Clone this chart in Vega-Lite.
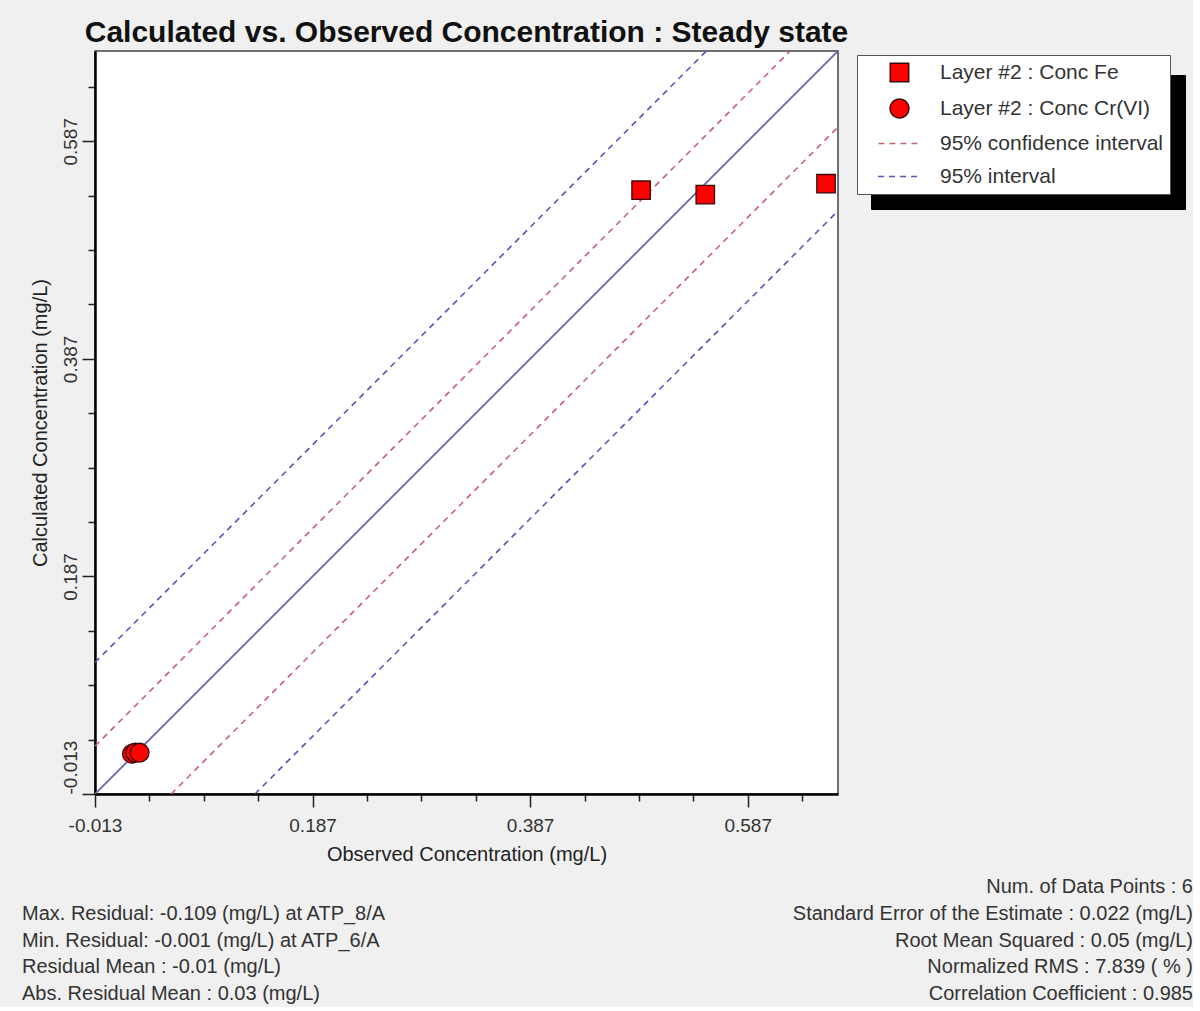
{
  "$schema": "https://vega.github.io/schema/vega-lite/v6.json",
  "background": "#f0f0f0",
  "padding": {"left": 22, "top": 17, "right": 0, "bottom": 0},
  "spacing": 9,
  "config": {
    "font": "Liberation Sans",
    "view": {"stroke": null}
  },
  "datasets": {
    "points": [
      {"series": "Layer #2 : Conc Fe", "x": 0.489, "y": 0.542},
      {"series": "Layer #2 : Conc Fe", "x": 0.548, "y": 0.538},
      {"series": "Layer #2 : Conc Fe", "x": 0.659, "y": 0.548},
      {"series": "Layer #2 : Conc Cr(VI)", "x": 0.021, "y": 0.024},
      {"series": "Layer #2 : Conc Cr(VI)", "x": 0.024, "y": 0.025},
      {"series": "Layer #2 : Conc Cr(VI)", "x": 0.028, "y": 0.025}
    ],
    "bands": [
      {"series": "95% confidence interval", "band": "ci_upper", "x": -0.013, "y": 0.031},
      {"series": "95% confidence interval", "band": "ci_upper", "x": 0.626, "y": 0.67},
      {"series": "95% confidence interval", "band": "ci_lower", "x": 0.057, "y": -0.013},
      {"series": "95% confidence interval", "band": "ci_lower", "x": 0.67, "y": 0.6},
      {"series": "95% interval", "band": "pi_upper", "x": -0.013, "y": 0.108},
      {"series": "95% interval", "band": "pi_upper", "x": 0.549, "y": 0.67},
      {"series": "95% interval", "band": "pi_lower", "x": 0.134, "y": -0.013},
      {"series": "95% interval", "band": "pi_lower", "x": 0.67, "y": 0.523}
    ],
    "diag": [
      {"x": -0.013, "y": -0.013},
      {"x": 0.67, "y": 0.67}
    ],
    "statsLeft": [
      {"side": "left", "row": 2, "text": "Max. Residual: -0.109 (mg/L) at ATP_8/A"},
      {"side": "left", "row": 3, "text": "Min. Residual: -0.001 (mg/L) at ATP_6/A"},
      {"side": "left", "row": 4, "text": "Residual Mean : -0.01 (mg/L)"},
      {"side": "left", "row": 5, "text": "Abs. Residual Mean : 0.03 (mg/L)"}
    ],
    "statsRight": [
      {"side": "right", "row": 1, "text": "Num. of Data Points : 6"},
      {"side": "right", "row": 2, "text": "Standard Error of the Estimate : 0.022 (mg/L)"},
      {"side": "right", "row": 3, "text": "Root Mean Squared : 0.05 (mg/L)"},
      {"side": "right", "row": 4, "text": "Normalized RMS : 7.839 ( % )"},
      {"side": "right", "row": 5, "text": "Correlation Coefficient : 0.985"}
    ]
  },
  "vconcat": [
    {
      "width": 743,
      "height": 743,
      "title": {
        "text": "Calculated vs. Observed Concentration : Steady state",
        "fontSize": 30,
        "fontWeight": "bold",
        "color": "#111111",
        "anchor": "middle",
        "frame": "group",
        "offset": 3
      },
      "view": {"fill": "white", "stroke": "#444444", "strokeWidth": 1.5},
      "encoding": {
        "x": {
          "field": "x",
          "type": "quantitative",
          "scale": {"domain": [-0.013, 0.67], "nice": false, "zero": false},
          "axis": {
            "title": "Observed Concentration (mg/L)",
            "values": [-0.013, 0.037, 0.087, 0.137, 0.187, 0.237, 0.287, 0.337, 0.387, 0.437, 0.487, 0.537, 0.587, 0.637],
            "labelExpr": "abs((datum.value + 0.013) / 0.2 - round((datum.value + 0.013) / 0.2)) < 0.01 ? toString(datum.value) : ''",
            "tickSize": {"condition": {"test": "abs((datum.value + 0.013) / 0.2 - round((datum.value + 0.013) / 0.2)) < 0.01", "value": 13}, "value": 7},
            "grid": false,
            "domainColor": "#000000",
            "domainWidth": 2.5,
            "tickColor": "#222222",
            "tickWidth": 1.5,
            "labelFontSize": 19,
            "labelColor": "#333333",
            "labelPadding": 9,
            "labelOverlap": false,
            "labelFlush": false,
            "titleFontSize": 20,
            "titleFontWeight": "normal",
            "titleColor": "#222222",
            "titlePadding": 9
          }
        },
        "y": {
          "field": "y",
          "type": "quantitative",
          "scale": {"domain": [-0.013, 0.67], "nice": false, "zero": false},
          "axis": {
            "title": "Calculated Concentration (mg/L)",
            "values": [-0.013, 0.037, 0.087, 0.137, 0.187, 0.237, 0.287, 0.337, 0.387, 0.437, 0.487, 0.537, 0.587, 0.637],
            "labelExpr": "abs((datum.value + 0.013) / 0.2 - round((datum.value + 0.013) / 0.2)) < 0.01 ? toString(datum.value) : ''",
            "tickSize": {"condition": {"test": "abs((datum.value + 0.013) / 0.2 - round((datum.value + 0.013) / 0.2)) < 0.01", "value": 13}, "value": 7},
            "grid": false,
            "domainColor": "#000000",
            "domainWidth": 2.5,
            "tickColor": "#222222",
            "tickWidth": 1.5,
            "labelAngle": -90,
            "labelAlign": {"condition": {"test": "datum.value < 0", "value": "left"}, "value": "center"},
            "labelFontSize": 19,
            "labelColor": "#333333",
            "labelPadding": 2,
            "labelOverlap": false,
            "labelFlush": false,
            "titleFontSize": 20,
            "titleFontWeight": "normal",
            "titleColor": "#222222",
            "titlePadding": 11
          }
        }
      },
      "layer": [
        {
          "data": {"name": "points"},
          "mark": {"type": "point", "filled": true, "opacity": 0},
          "encoding": {
            "color": {
              "field": "shadow",
              "type": "nominal",
              "scale": {"domain": ["s1", "s2", "s3", "s4"], "range": ["black", "black", "black", "black"]},
              "legend": {"title": null, "orient": "none", "legendX": 776, "legendY": 24, "fillColor": "black", "strokeColor": "black", "padding": 7, "symbolOffset": 27, "labelOffset": 252, "labelFontSize": 21, "labelColor": "black", "rowPadding": 11, "symbolSize": 380, "symbolOpacity": 0, "labelLimit": 400,
                "labelExpr": "''"}
            }
          }
        },
        {
          "data": {"name": "diag"},
          "mark": {"type": "line", "color": "#6464b0", "strokeWidth": 1.8, "clip": true},
          "encoding": {}
        },
        {
          "data": {"name": "bands"},
          "mark": {"type": "line", "strokeWidth": 1.6, "clip": true},
          "encoding": {
            "detail": {"field": "band"},
            "stroke": {
              "field": "series",
              "type": "nominal",
              "scale": {
                "domain": ["Layer #2 : Conc Fe", "Layer #2 : Conc Cr(VI)", "95% confidence interval", "95% interval"],
                "range": ["#3a0a0a", "#3a0a0a", "#c4646e", "#5656b4"]
              },
              "legend": {"title": null, "orient": "none", "legendX": 762, "legendY": 4, "fillColor": "white", "strokeColor": "#555555", "padding": 7, "symbolOffset": 25, "labelOffset": 30, "labelFontSize": 21, "labelColor": "#333333", "rowPadding": 11, "symbolStrokeWidth": 1.5, "labelLimit": 400}
            },
            "strokeDash": {
              "field": "series",
              "type": "nominal",
              "scale": {
                "domain": ["Layer #2 : Conc Fe", "Layer #2 : Conc Cr(VI)", "95% confidence interval", "95% interval"],
                "range": [[1, 0], [1, 0], [6, 5], [6, 5]]
              },
              "legend": {"title": null, "orient": "none", "legendX": 762, "legendY": 4, "fillColor": "white", "strokeColor": "#555555", "padding": 7, "symbolOffset": 25, "labelOffset": 30, "labelFontSize": 21, "labelColor": "#333333", "rowPadding": 11, "symbolStrokeWidth": 1.5, "labelLimit": 400}
            }
          }
        },
        {
          "data": {"name": "points"},
          "mark": {"type": "point", "filled": true, "stroke": "#3a0a0a", "strokeWidth": 1.3, "opacity": 1},
          "encoding": {
            "fill": {
              "field": "series",
              "type": "nominal",
              "scale": {
                "domain": ["Layer #2 : Conc Fe", "Layer #2 : Conc Cr(VI)", "95% confidence interval", "95% interval"],
                "range": ["#ff0000", "#ff0000", "transparent", "transparent"]
              },
              "legend": {"title": null, "orient": "none", "legendX": 762, "legendY": 4, "fillColor": "white", "strokeColor": "#555555", "padding": 7, "symbolOffset": 25, "labelOffset": 30, "labelFontSize": 21, "labelColor": "#333333", "rowPadding": 11, "symbolStrokeWidth": 1.5, "labelLimit": 400}
            },
            "shape": {
              "field": "series",
              "type": "nominal",
              "scale": {
                "domain": ["Layer #2 : Conc Fe", "Layer #2 : Conc Cr(VI)", "95% confidence interval", "95% interval"],
                "range": ["square", "circle", "M-2.2,0H2.2", "M-2.2,0H2.2"]
              },
              "legend": {"title": null, "orient": "none", "legendX": 762, "legendY": 4, "fillColor": "white", "strokeColor": "#555555", "padding": 7, "symbolOffset": 25, "labelOffset": 30, "labelFontSize": 21, "labelColor": "#333333", "rowPadding": 11, "symbolStrokeWidth": 1.5, "labelLimit": 400}
            },
            "size": {
              "field": "series",
              "type": "ordinal",
              "scale": {
                "domain": ["Layer #2 : Conc Fe", "Layer #2 : Conc Cr(VI)", "95% confidence interval", "95% interval"],
                "range": [340, 380, 340, 340]
              },
              "legend": {"title": null, "orient": "none", "legendX": 762, "legendY": 4, "fillColor": "white", "strokeColor": "#555555", "padding": 7, "symbolOffset": 25, "labelOffset": 30, "labelFontSize": 21, "labelColor": "#333333", "rowPadding": 11, "symbolStrokeWidth": 1.5, "labelLimit": 400}
            }
          }
        }
      ]
    },
    {
      "width": 1098,
      "height": 133,
      "view": {"stroke": null},
      "encoding": {
        "y": {"field": "row", "type": "ordinal", "scale": {"domain": [1, 2, 3, 4, 5]}, "axis": null},
        "x": {"field": "side", "type": "nominal", "scale": {"type": "point", "domain": ["left", "right"], "range": [-73, 1098], "padding": 0}, "axis": null},
        "text": {"field": "text"}
      },
      "layer": [
        {
          "data": {"name": "statsLeft"},
          "mark": {"type": "text", "align": "left", "baseline": "middle", "fontSize": 20, "color": "#333333"}
        },
        {
          "data": {"name": "statsRight"},
          "mark": {"type": "text", "align": "right", "baseline": "middle", "fontSize": 20, "color": "#333333"}
        }
      ]
    }
  ]
}
